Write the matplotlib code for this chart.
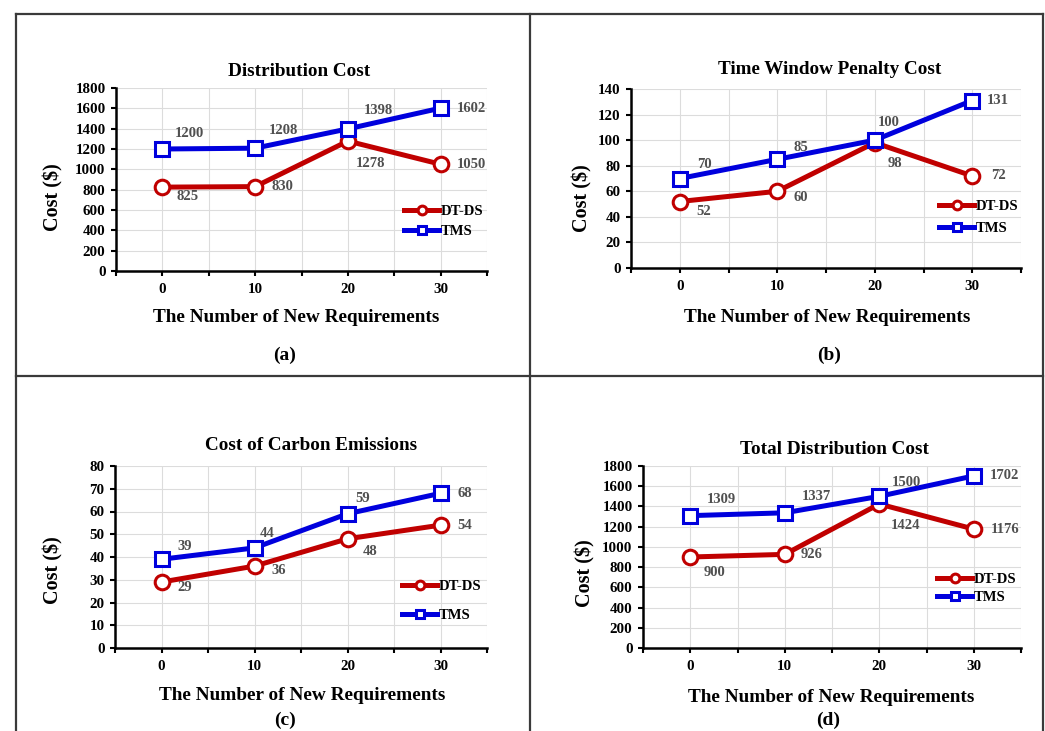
import matplotlib
matplotlib.use("Agg")
import matplotlib.pyplot as plt
from matplotlib.lines import Line2D

plt.rcParams['font.family'] = ['Liberation Serif', 'DejaVu Serif']
plt.rcParams['font.weight'] = 'bold'

# === DATA ===
x_values = [0, 10, 20, 30]
series_names = ['DT-DS', 'TMS']

titles = ['Distribution Cost', 'Time Window Penalty Cost',
          'Cost of Carbon Emissions', 'Total Distribution Cost']
sub_labels = ['(a)', '(b)', '(c)', '(d)']

dtds_distribution = [825, 830, 1278, 1050]
tms_distribution = [1200, 1208, 1398, 1602]

dtds_penalty = [52, 60, 98, 72]
tms_penalty = [70, 85, 100, 131]

dtds_carbon = [29, 36, 48, 54]
tms_carbon = [39, 44, 59, 68]

dtds_total = [900, 926, 1424, 1176]
tms_total = [1309, 1337, 1500, 1702]

y_limits = [(0, 1800, 200), (0, 140, 20), (0, 80, 10), (0, 1800, 200)]

# === LAYOUT (pixel positions measured on a 1045x731 canvas) ===
W, H = 1045, 731
RED = '#C00000'
BLUE = '#0000DD'
LABEL_GRAY = '#505050'

# axes boxes: left, right, top, bottom
axes_px = [(116, 487, 88, 271), (631, 1021, 89, 268),
           (115, 487, 466, 648), (643, 1021, 466, 648)]
title_px = [(299, 72), (830, 69), (311, 446), (834, 449)]
xlabel_px = [(296, 318), (827, 318), (302, 695), (831, 697)]
sub_px = [(285, 355), (829, 355), (285, 720), (828, 720)]
ylabel_px = [(53, 197), (582, 198), (53, 570), (585, 573)]
# legend: upper-left corner, label spacing
legend_px = [(404, 205, 0.45), (939, 200, 0.6), (402, 580, 1.05), (937, 573, 0.3)]

# data label offsets (pixels) per panel
dtds_offsets = [
    [(25, -9), (27, 0), (23, -22), (31, 0)],
    [(24, -10), (24, -6), (20, -21), (26, 0)],
    [(23, -5), (24, -4), (23, -13), (24, 0)],
    [(24, -15), (27, 0), (26, -21), (31, 0)],
]
tms_offsets = [
    [(27, 15), (28, 18), (31, 18), (31, 0)],
    [(25, 14), (24, 12), (14, 18), (26, 0)],
    [(23, 13), (13, 14), (15, 15), (24, 0)],
    [(31, 16), (32, 16), (27, 14), (31, 0)],
]

panels = [
    (dtds_distribution, tms_distribution),
    (dtds_penalty, tms_penalty),
    (dtds_carbon, tms_carbon),
    (dtds_total, tms_total),
]


def fx(x):
    return x / W


def fy(y):
    return 1 - y / H


fig = plt.figure(figsize=(W / 100, H / 100), dpi=100)
fig.patch.set_facecolor('white')

for i, (dtds, tms) in enumerate(panels):
    l, r, t, b = axes_px[i]
    ax = fig.add_axes([fx(l), fy(b), fx(r) - fx(l), (b - t) / H])

    ax.plot(x_values, dtds, color=RED, linewidth=3.6, marker='o', markersize=10.5,
            markerfacecolor='white', markeredgecolor=RED, markeredgewidth=2.2,
            label=series_names[0], zorder=3)
    ax.plot(x_values, tms, color=BLUE, linewidth=3.6, marker='s', markersize=10.5,
            markerfacecolor='white', markeredgecolor=BLUE, markeredgewidth=2.2,
            label=series_names[1], zorder=3)

    for xv, yv, off in zip(x_values, dtds, dtds_offsets[i]):
        ax.annotate(str(yv), (xv, yv), xytext=off, textcoords='offset pixels',
                    ha='center', va='center', fontsize=10.5, color=LABEL_GRAY,
                    fontweight='bold', zorder=4)
    for xv, yv, off in zip(x_values, tms, tms_offsets[i]):
        ax.annotate(str(yv), (xv, yv), xytext=off, textcoords='offset pixels',
                    ha='center', va='center', fontsize=10.5, color=LABEL_GRAY,
                    fontweight='bold', zorder=4)

    y0, y1, step = y_limits[i]
    ax.set_ylim(y0, y1)
    ax.set_yticks(range(y0, y1 + 1, step))
    ax.set_xlim(-5, 35)
    xt = list(range(-5, 36, 5))
    ax.set_xticks(xt)
    ax.set_xticklabels([str(v) if v in x_values else '' for v in xt])

    ax.grid(True, color='#dcdcdc', linewidth=0.8, zorder=0)
    ax.set_axisbelow(True)
    for side in ['top', 'right']:
        ax.spines[side].set_visible(False)
    for side in ['left', 'bottom']:
        ax.spines[side].set_linewidth(1.8)
        ax.spines[side].set_color('black')
    ax.tick_params(axis='both', direction='out', length=3.5, width=1.5,
                   labelsize=10.8, colors='black')
    ax.tick_params(axis='x', pad=5)
    ax.tick_params(axis='y', pad=4)
    for lab in ax.get_xticklabels() + ax.get_yticklabels():
        lab.set_fontweight('bold')

    lx, ly, lsp = legend_px[i]
    ax.legend(loc='upper left', bbox_to_anchor=(fx(lx), fy(ly)),
              bbox_transform=fig.transFigure, frameon=False,
              borderpad=0, borderaxespad=0, handlelength=2.4,
              handletextpad=0.1, labelspacing=lsp, markerscale=0.6,
              prop={'weight': 'bold', 'size': 10.5})

    fig.text(fx(title_px[i][0]), fy(title_px[i][1]), titles[i], ha='center',
             va='center', fontsize=13.8, fontweight='bold')
    fig.text(fx(xlabel_px[i][0]), fy(xlabel_px[i][1]),
             'The Number of New Requirements', ha='center', va='center',
             fontsize=13.9, fontweight='bold')
    fig.text(fx(sub_px[i][0]), fy(sub_px[i][1]), sub_labels[i], ha='center',
             va='center', fontsize=14, fontweight='bold')
    fig.text(fx(ylabel_px[i][0]), fy(ylabel_px[i][1]), 'Cost ($)', ha='center',
             va='center', rotation=90, fontsize=14.5, fontweight='bold')

# outer frame and dividers
frame_color = '#3a3a3a'
frame_lines = [
    ((15.5, 15.5), (13.5, 731)),
    ((15.5, 1043), (13.5, 13.5)),
    ((1043, 1043), (13.5, 731)),
    ((530, 530), (13.5, 731)),
    ((15.5, 1043), (376, 376)),
]
for xs, ys in frame_lines:
    fig.add_artist(Line2D([fx(v) for v in xs], [fy(v) for v in ys],
                          color=frame_color, linewidth=1.6))

fig.savefig('out.png', dpi=100, facecolor='white')
